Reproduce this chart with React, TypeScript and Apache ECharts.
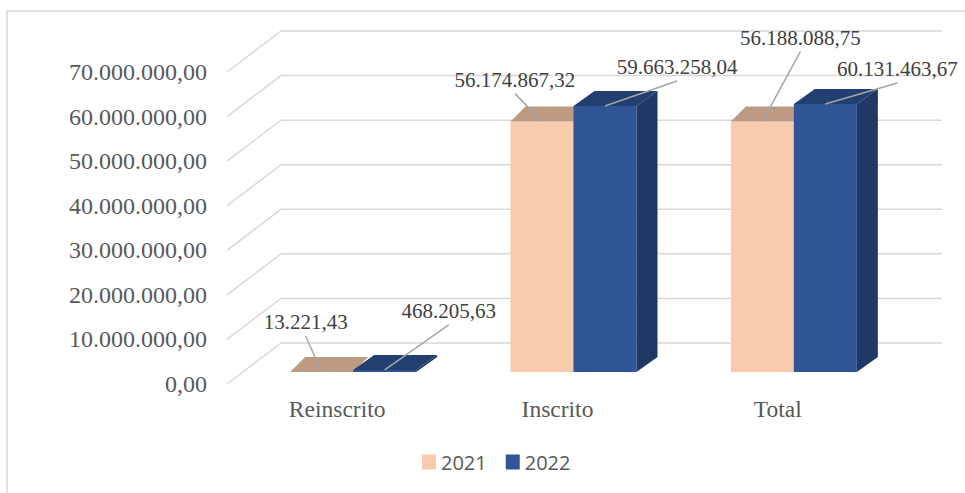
import React, { useEffect, useRef } from 'react';
import * as echarts from 'echarts';

// ---- data ----
const CATEGORIES = ['Reinscrito', 'Inscrito', 'Total'];
const SERIES_NAMES = ['2021', '2022'];
const VALUES_2021 = [13221.43, 56174867.32, 56188088.75];
const VALUES_2022 = [468205.63, 59663258.04, 60131463.67];
const Y_TICKS = [0, 10000000, 20000000, 30000000, 40000000, 50000000, 60000000, 70000000];
const Y_MAX = 70000000;
const Y_INTERVAL = 10000000;

// label placement (pixel offsets from each bar's top-front centre)
const LABEL_OFFSETS_2021 = [[-16, -50], [-27, -42], [38, -84]];
const LABEL_OFFSETS_2022 = [[64, -59], [72, -39], [72, -35]];

// ---- 3D look (pixels) ----
const FLOOR_DEPTH = [54, -41];
const BAR_FRONT_SHIFT = [16, -12];
const BAR_DEPTH_DY = -15;
const BAR_DEPTH_DX = [15, 21];
const BAR_WIDTH_RATIO = 0.286;

const FACE_COLORS = [
  { front: '#F8CBAD', top: '#BF9A83', side: '#C7A28A' },
  { front: '#2F5597', top: '#223F71', side: '#1F3864' },
];

const fmt = (v: number) => {
  const fixed = Math.abs(v).toFixed(2);
  const [ip, dp] = fixed.split('.');
  const withDots = ip.replace(/\B(?=(\d{3})+(?!\d))/g, '.');
  return (v < 0 ? '-' : '') + withDots + ',' + dp;
};

const SERIF = "'Liberation Serif', 'Times New Roman', serif";

function barGeom(api: any, yearIdx: number) {
  const cat = api.value(0);
  const v = api.value(1);
  const base = api.coord([cat, 0]);
  const top = api.coord([cat, v]);
  const catW = api.size([1, 0])[0];
  const bw = catW * BAR_WIDTH_RATIO;
  const x0 = base[0] + (yearIdx === 0 ? -bw : 0) + BAR_FRONT_SHIFT[0];
  const x1 = x0 + bw;
  const yb = base[1] + BAR_FRONT_SHIFT[1];
  const yt = top[1] + BAR_FRONT_SHIFT[1];
  return { x0, x1, yb, yt, bw };
}

const makeBarRender = (yearIdx: number) => (params: any, api: any) => {
  const { x0, x1, yb, yt } = barGeom(api, yearIdx);
  const dx = BAR_DEPTH_DX[yearIdx];
  const dy = BAR_DEPTH_DY;
  const c = FACE_COLORS[yearIdx];
  return {
    type: 'group',
    children: [
      { type: 'polygon', shape: { points: [[x0, yb], [x0, yt], [x1, yt], [x1, yb]] }, style: { fill: c.front } },
      { type: 'polygon', shape: { points: [[x0, yt], [x0 + dx, yt + dy], [x1 + dx, yt + dy], [x1, yt]] }, style: { fill: c.top } },
      { type: 'polygon', shape: { points: [[x1, yt], [x1 + dx, yt + dy], [x1 + dx, yb + dy], [x1, yb]] }, style: { fill: c.side } },
    ],
  };
};

const gridRender = (params: any, api: any) => {
  const cs = params.coordSys;
  const y = api.coord([0, api.value(1)])[1];
  const x0 = cs.x;
  const x1 = cs.x + cs.width;
  return {
    type: 'polyline',
    silent: true,
    shape: {
      points: [
        [x0, y],
        [x0 + FLOOR_DEPTH[0], y + FLOOR_DEPTH[1]],
        [x1 + FLOOR_DEPTH[0], y + FLOOR_DEPTH[1]],
      ],
    },
    style: { stroke: '#D9D9D9', lineWidth: 1.5, fill: null },
  };
};

const labelRender = (params: any, api: any) => {
  const cat = api.value(0);
  const v = api.value(1);
  const yearIdx = api.value(2);
  const { x0, yt, bw } = barGeom(api, yearIdx);
  const ax = x0 + bw / 2;
  const ay = yt;
  const off = (yearIdx === 0 ? LABEL_OFFSETS_2021 : LABEL_OFFSETS_2022)[cat];
  const tx = ax + off[0];
  const ty = ay + off[1];
  return {
    type: 'group',
    children: [
      {
        type: 'line',
        shape: { x1: tx, y1: ty + 14, x2: ax, y2: ay },
        style: { stroke: '#A6A6A6', lineWidth: 1.5 },
      },
      {
        type: 'text',
        x: tx,
        y: ty,
        style: {
          text: fmt(v),
          fill: '#404040',
          font: `21px ${SERIF}`,
          align: 'center',
          verticalAlign: 'middle',
        },
      },
    ],
  };
};

export default function App() {
  const ref = useRef<HTMLDivElement>(null);

  useEffect(() => {
    document.body.style.margin = '0';
    if (!ref.current) return;
    const chart = echarts.init(ref.current, undefined, { renderer: 'svg' });
    const labelData = [
      ...VALUES_2021.map((v, i) => [i, v, 0]),
      ...VALUES_2022.map((v, i) => [i, v, 1]),
    ];
    chart.setOption({
      animation: false,
      backgroundColor: '#FFFFFF',
      graphic: [
        {
          type: 'rect',
          shape: { x: 7, y: 11, width: 1000, height: 1000 },
          style: { fill: null, stroke: '#D9D9D9', lineWidth: 1.5 },
          silent: true,
          z: -10,
        },
      ],
      grid: { left: 227, right: 77, top: 72, bottom: 109 },
      legend: {
        data: SERIES_NAMES,
        left: 417,
        top: 447,
        icon: 'rect',
        itemWidth: 14,
        itemHeight: 15,
        itemGap: 19,
        textStyle: { fontFamily: "'Open Sans', sans-serif", fontSize: 20, color: '#595959' },
      },
      xAxis: {
        type: 'category',
        data: CATEGORIES,
        axisLine: { show: false },
        axisTick: { show: false },
        splitLine: { show: false },
        axisLabel: { fontFamily: SERIF, fontSize: 23.5, color: '#595959', margin: 13 },
      },
      yAxis: {
        type: 'value',
        min: 0,
        max: Y_MAX,
        interval: Y_INTERVAL,
        axisLine: { show: false },
        axisTick: { show: false },
        splitLine: { show: false },
        axisLabel: { fontFamily: SERIF, fontSize: 24, color: '#595959', margin: 20, formatter: (v: number) => fmt(v) },
      },
      series: [
        {
          type: 'custom',
          z: 1,
          silent: true,
          renderItem: gridRender,
          encode: { x: 0, y: 1 },
          data: Y_TICKS.map((t) => [0, t]),
        },
        {
          type: 'custom',
          name: SERIES_NAMES[0],
          z: 2,
          itemStyle: { color: FACE_COLORS[0].front },
          renderItem: makeBarRender(0),
          encode: { x: 0, y: 1 },
          data: VALUES_2021.map((v, i) => [i, v]),
        },
        {
          type: 'custom',
          name: SERIES_NAMES[1],
          z: 3,
          itemStyle: { color: FACE_COLORS[1].front },
          renderItem: makeBarRender(1),
          encode: { x: 0, y: 1 },
          data: VALUES_2022.map((v, i) => [i, v]),
        },
        {
          type: 'custom',
          z: 4,
          silent: true,
          renderItem: labelRender,
          encode: { x: 0, y: 1 },
          data: labelData,
        },
      ],
    });
    return () => chart.dispose();
  }, []);

  return (
    <div
      ref={ref}
      style={{ position: 'absolute', left: 0, top: 0, width: 965, height: 493 }}
    />
  );
}
